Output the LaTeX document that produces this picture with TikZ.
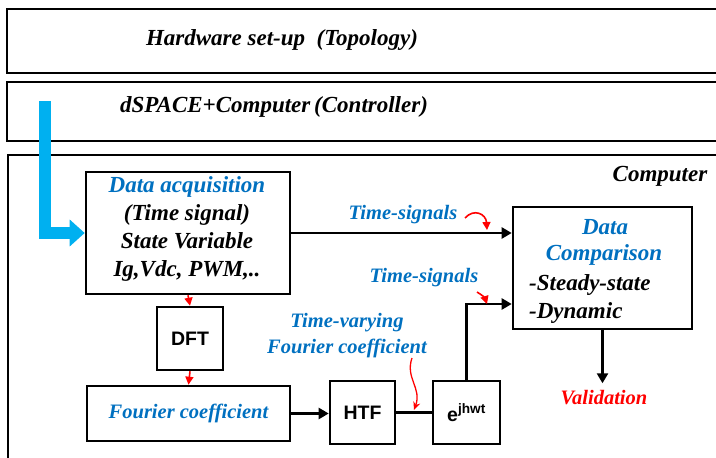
\documentclass[tikz,border=0pt]{standalone}
\usepackage{fontspec}
\setmainfont{Liberation Serif}
\setsansfont{Liberation Sans}
\usetikzlibrary{arrows.meta}
\definecolor{tblue}{RGB}{0,112,192}
\definecolor{cyanA}{RGB}{0,176,240}
\definecolor{tred}{RGB}{255,0,0}
\begin{document}
\begin{tikzpicture}[x=1pt,y=-1pt,
  outer/.style={draw, line width=2pt},
  blk/.style={draw, line width=2.6pt, inner sep=0pt},
  big/.style={font=\fontsize{23}{28}\selectfont\bfseries\itshape, inner sep=1pt},
  mid/.style={font=\fontsize{20.5}{26}\selectfont\bfseries\itshape, inner sep=1pt},
  sf/.style={font=\fontsize{19.5}{22}\selectfont\sffamily\bfseries},
  arr/.style={line width=2.4pt, -{Triangle[length=10pt,width=11pt]}},
  redarr/.style={tred, line width=1.6pt, -{Triangle[length=8pt,width=8pt]}},
  wavy/.style={tred, line width=1.3pt, -{Stealth[length=8pt,width=7pt]}}]
\useasboundingbox (0,0) rectangle (716,458);
% outer layer boxes
\path[outer] (7,9) rectangle (730,73);
\path[outer] (7,82) rectangle (730,141);
\path[outer] (8,155) rectangle (730,470);
\node[big] (hw) at (282,40) {Hardware set-up\ \ (Topology)};
\node[big] (ds) at (274,107) {dSPACE+Computer\,(Controller)};
\node[big] (comp) at (660,176) {Computer};
% blocks
\node[blk, minimum width=204pt, minimum height=122pt] (da) at (188,233) {};
\node[big, align=center] (dat) at (187,229) {\textcolor{tblue}{Data acquisition}\\(Time signal)\\State Variable\\Ig,Vdc, PWM,..};
\node[blk, minimum width=179pt, minimum height=122pt] (dc) at (602.5,268) {};
\node[big, text=tblue] (dc1) at (605,227) {Data};
\node[big, text=tblue] (dc2) at (604,255) {Comparison};
\node[big, anchor=west] (dc3) at (528,285) {-Steady-state};
\node[big, anchor=west] (dc4) at (528,313) {-Dynamic};
\node[blk, sf, minimum width=66pt, minimum height=63pt] (dft) at (190,338.5) {DFT};
\node[blk, mid, text=tblue, minimum width=203pt, minimum height=55pt] (fc) at (188.5,413.5) {Fourier coefficient};
\node[blk, sf, minimum width=65pt, minimum height=63pt] (htf) at (362.5,412.5) {HTF};
\node[blk, sf, minimum width=67pt, minimum height=63pt] (ej) at (466.5,412.5) {e\textsuperscript{jhwt}};
% labels
\node[mid, text=tblue] (ts1) at (403,215) {Time-signals};
\node[mid, text=tblue] (ts2) at (424,278) {Time-signals};
\node[mid, text=tblue, align=center] (tv) at (347,336) {Time-varying\\Fourier coefficient};
\node[mid, text=tred] (val) at (604,398) {Validation};
% blue arrow
\coordinate (bstart) at (45,101);
\draw[cyanA, line width=12pt, -{Triangle[length=15pt,width=26pt]}] (bstart) |- (da.west);
% connectors
\draw[arr] (da.east) -- (dc.west |- da.east);
\path (dc.west) ++(0,36) coordinate (dcin);
\draw[arr] (ej.north) |- (dcin);
\draw[arr] (dc.south) -- ++(0,53) coordinate (valtop);
\draw[redarr] (da.south) -- (dft.north);
\draw[redarr] (dft.south) -- (fc.north);
\draw[arr] (fc.east) -- (htf.west |- fc.east);
\draw[line width=2.4pt] (htf.east) -- (ej.west);
% red pointers
\coordinate (r1s) at (465,218);
\coordinate (r1e) at (487,230);
\draw[redarr] (r1s) .. controls (474,208) and (486,214) .. (r1e);
\coordinate (r2s) at (477,292);
\coordinate (r2e) at (487,304);
\draw[redarr] (r2s) .. controls (482,295) and (485,298) .. (r2e);
\coordinate (r3s) at (412,358);
\coordinate (r3e) at (414,410);
\draw[wavy] (r3s) .. controls (405,378) and (422,388) .. (r3e);
\end{tikzpicture}
\end{document}
